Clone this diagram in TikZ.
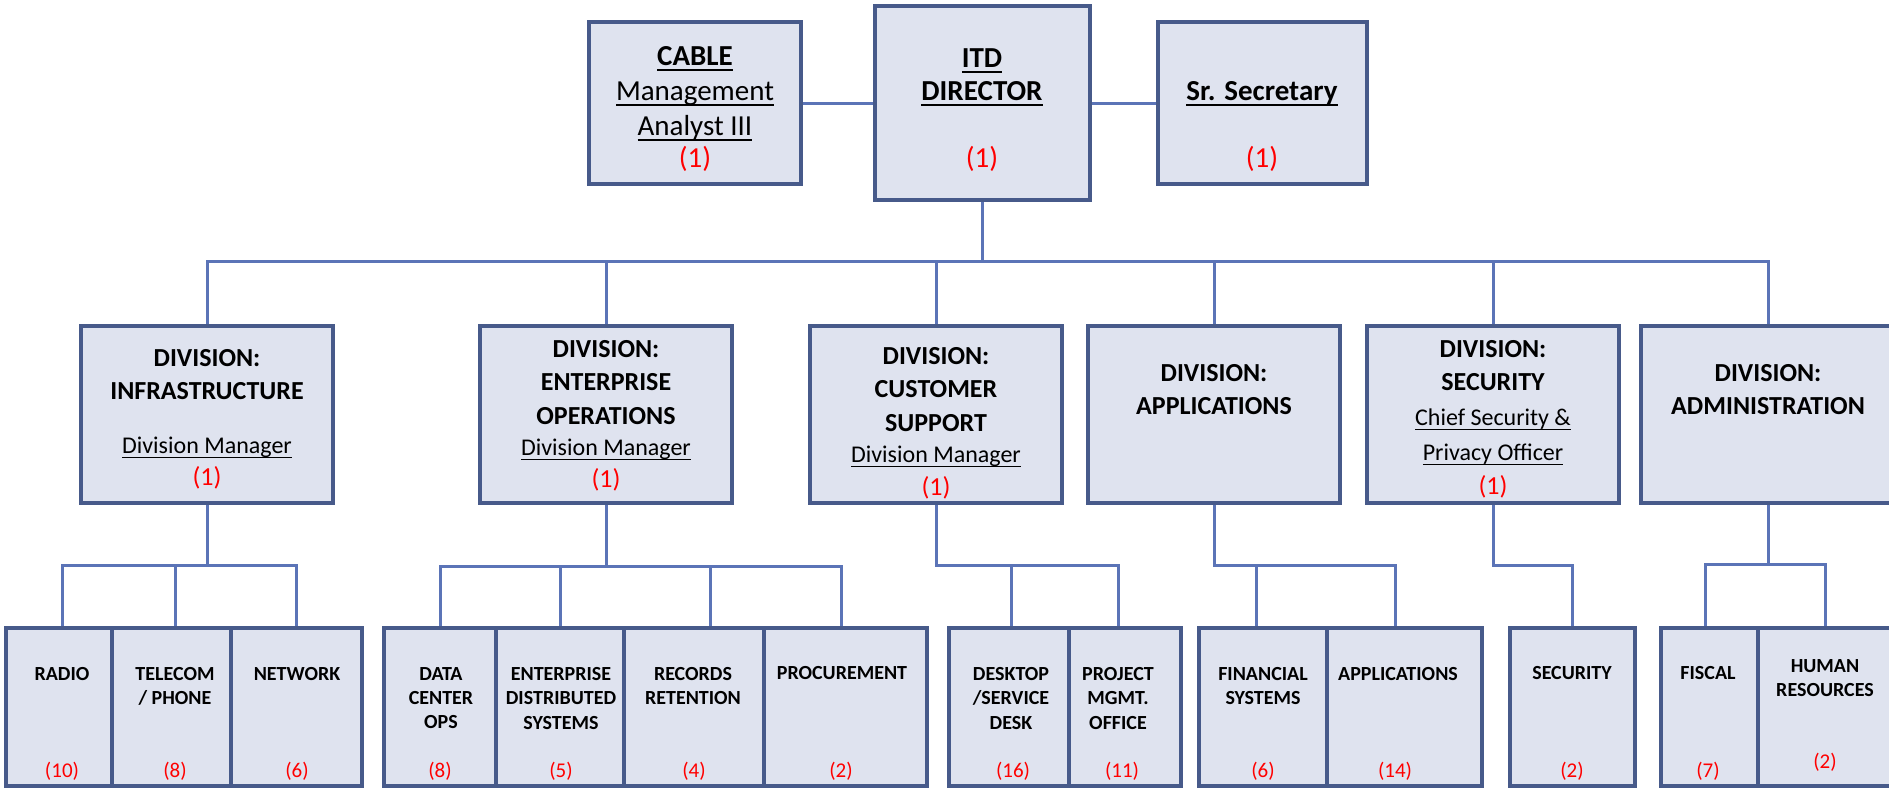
\documentclass[tikz,border=0pt]{standalone}
\usepackage{fontspec}
\setmainfont{Carlito}
\usetikzlibrary{backgrounds}
\definecolor{boxfill}{HTML}{DFE3EF}
\definecolor{boxline}{HTML}{475A8A}
\definecolor{linkline}{HTML}{5B74B7}
\definecolor{countred}{HTML}{FF0000}
\newcommand{\ulx}[1]{\sbox0{#1}\rlap{\rule[-0.2em]{\wd0}{0.07em}}\usebox0}
\begin{document}
\begin{tikzpicture}[x=0.5pt,y=-0.5pt,
  box/.style={rectangle, draw=boxline, fill=boxfill, line width=2pt, inner sep=0pt},
  leafbox/.style={box, line width=2pt, minimum height=79pt},
  divbox/.style={box, minimum width=126pt, minimum height=88.5pt},
  link/.style={draw=linkline, line width=1.5pt},
  toptext/.style={align=center, inner sep=0pt, anchor=north},
  topnum/.style={text=countred, font=\fontsize{14.5}{17}\selectfont, inner sep=0pt},
  divtitle/.style={font=\bfseries\fontsize{13}{16.75}\selectfont, align=center, inner sep=0pt, anchor=north},
  divsub/.style={font=\fontsize{12}{15}\selectfont, inner sep=0pt, anchor=base},
  divnum/.style={text=countred, font=\fontsize{13}{15}\selectfont, inner sep=0pt},
  ltitle/.style={font=\bfseries\fontsize{10}{12.2}\selectfont, align=center, inner sep=0pt, anchor=north},
  lnum/.style={text=countred, font=\fontsize{10.5}{12}\selectfont, inner sep=0pt}
]
\useasboundingbox (0,0) rectangle (1889,788);

% ---- top row ----
\node[box, minimum width=106pt, minimum height=81pt] (cable) at (695,103) {};
\node[box, minimum width=107.5pt, minimum height=97pt] (itd) at (982,103) {};
\node[box, minimum width=104.5pt, minimum height=81pt] (sr) at (1262,103) {};

\node[toptext, font=\fontsize{14.5}{17.5}\selectfont] (cable-t) at (695,45.8)
  {\textbf{\ulx{CABLE}}\\\ulx{Management}\\\ulx{Analyst III}};
\node[toptext, font=\bfseries\fontsize{14.5}{16.5}\selectfont] (itd-t) at (982,47.8)
  {\ulx{ITD}\\\ulx{DIRECTOR}};
\node[toptext, font=\bfseries\fontsize{14.5}{17.5}\selectfont] (sr-t) at (1262,80.8)
  {\ulx{Sr. Secretary}};
\node[topnum] (cable-n) at (695,159) {(1)};
\node[topnum] (itd-n) at (982,159) {(1)};
\node[topnum] (sr-n) at (1262,159) {(1)};

% ---- divisions ----
\node[divbox] (infra) at (207,414.5) {};
\node[divbox] (entops) at (606,414.5) {};
\node[divbox] (custsup) at (936,414.5) {};
\node[divbox] (apps) at (1214,414.5) {};
\node[divbox] (sec) at (1493,414.5) {};
\node[divbox, minimum width=127pt] (admin) at (1768,414.5) {};

\node[divtitle] (infra-t) at (207,348.8) {DIVISION:\\INFRASTRUCTURE};
\node[divsub] (infra-s) at (207,453.6) {\ulx{Division Manager}};
\node[divnum] (infra-n) at (207,478) {(1)};

\node[divtitle] (entops-t) at (606,339.8) {DIVISION:\\ENTERPRISE\\OPERATIONS};
\node[divsub] (entops-s) at (606,455.6) {\ulx{Division Manager}};
\node[divnum] (entops-n) at (606,480) {(1)};

\node[divtitle] (custsup-t) at (936,346.8) {DIVISION:\\CUSTOMER\\SUPPORT};
\node[divsub] (custsup-s) at (936,462.6) {\ulx{Division Manager}};
\node[divnum] (custsup-n) at (936,488) {(1)};

\node[divtitle] (apps-t) at (1214,363.8) {DIVISION:\\APPLICATIONS};

\node[divtitle] (sec-t) at (1493,339.8) {DIVISION:\\SECURITY};
\node[divsub] (sec-s1) at (1493,425.6) {\ulx{Chief Security \&}};
\node[divsub] (sec-s2) at (1493,460.6) {\ulx{Privacy Officer}};
\node[divnum] (sec-n) at (1493,487) {(1)};

\node[divtitle] (admin-t) at (1768,363.8) {DIVISION:\\ADMINISTRATION};

% ---- leaves ----
\node[leafbox, minimum width=53pt] (radio) at (59,707) {};
\node[leafbox, minimum width=59.5pt] (telecom) at (171.5,707) {};
\node[leafbox, minimum width=65.5pt] (network) at (296.5,707) {};

\node[leafbox, minimum width=56pt] (datacenter) at (440,707) {};
\node[leafbox, minimum width=64pt] (eds) at (560,707) {};
\node[leafbox, minimum width=70pt] (records) at (694,707) {};
\node[leafbox, minimum width=81.5pt] (procurement) at (845.5,707) {};

\node[leafbox, minimum width=60pt] (desktop) at (1009,707) {};
\node[leafbox, minimum width=56pt] (pmo) at (1125,707) {};

\node[leafbox, minimum width=64pt] (financial) at (1263,707) {};
\node[leafbox, minimum width=77.5pt] (applications) at (1404.5,707) {};

\node[leafbox, minimum width=62.5pt] (security) at (1572.5,707) {};

\node[leafbox, minimum width=48.5pt] (fiscal) at (1709.5,707) {};
\node[leafbox, minimum width=67.5pt] (hr) at (1825.5,707) {};

\node[ltitle] (radio-t) at (62,666.7) {RADIO};
\node[ltitle] (telecom-t) at (175,666.7) {TELECOM\\/ PHONE};
\node[ltitle] (network-t) at (297,666.7) {NETWORK};
\node[ltitle] (datacenter-t) at (441,666.7) {DATA\\CENTER\\OPS};
\node[ltitle] (eds-t) at (561,666.7) {ENTERPRISE\\DISTRIBUTED\\SYSTEMS};
\node[ltitle] (records-t) at (693,666.7) {RECORDS\\RETENTION};
\node[ltitle] (procurement-t) at (842,666) {PROCUREMENT};
\node[ltitle] (desktop-t) at (1011,666.7) {DESKTOP\\/SERVICE\\DESK};
\node[ltitle] (pmo-t) at (1118,666.7) {PROJECT\\MGMT.\\OFFICE};
\node[ltitle] (financial-t) at (1263,666.7) {FINANCIAL\\SYSTEMS};
\node[ltitle] (applications-t) at (1398,666.7) {APPLICATIONS};
\node[ltitle] (security-t) at (1572,666.4) {SECURITY};
\node[ltitle] (fiscal-t) at (1708,665.7) {FISCAL};
\node[ltitle] (hr-t) at (1825,658.7) {HUMAN\\RESOURCES};

\node[lnum] (radio-n) at (62,771) {(10)};
\node[lnum] (telecom-n) at (175,771) {(8)};
\node[lnum] (network-n) at (297,771) {(6)};
\node[lnum] (datacenter-n) at (440,771) {(8)};
\node[lnum] (eds-n) at (561,771) {(5)};
\node[lnum] (records-n) at (694,771) {(4)};
\node[lnum] (procurement-n) at (841,771) {(2)};
\node[lnum] (desktop-n) at (1013,771) {(16)};
\node[lnum] (pmo-n) at (1122,771) {(11)};
\node[lnum] (financial-n) at (1263,771) {(6)};
\node[lnum] (applications-n) at (1395,771) {(14)};
\node[lnum] (security-n) at (1572,771) {(2)};
\node[lnum] (fiscal-n) at (1708,771) {(7)};
\node[lnum] (hr-n) at (1825,762) {(2)};

% ---- connectors ----
\begin{pgfonlayer}{background}
\draw[link] (cable.east) -- (itd.west);
\draw[link] (itd.east) -- (sr.west);
\coordinate (bus) at (982,261);
\draw[link] (itd.south) -- (bus);
\draw[link] (infra.north) |- (bus) -| (admin.north);
\draw[link] (entops.north) -- (entops.north |- bus);
\draw[link] (custsup.north) -- (custsup.north |- bus);
\draw[link] (apps.north) -- (apps.north |- bus);
\draw[link] (sec.north) -- (sec.north |- bus);

\coordinate (infra-j) at (207,565);
\draw[link] (infra.south) -- (infra-j);
\draw[link] ([xshift=1.5pt]radio.north) |- (infra-j) -| (network.north);
\draw[link] ([xshift=1.75pt]telecom.north) -- ([xshift=1.75pt]telecom.north |- infra-j);

\coordinate (entops-j) at (606,566);
\draw[link] (entops.south) -- (entops-j);
\draw[link] (datacenter.north) |- (entops-j) -| ([xshift=-2.25pt]procurement.north);
\draw[link] (eds.north) -- (eds.north |- entops-j);
\draw[link] ([xshift=8pt]records.north) -- ([xshift=8pt]records.north |- entops-j);

\coordinate (custsup-j) at (936,565);
\draw[link] (custsup.south) -- (custsup-j) -| ([xshift=-3.5pt]pmo.north);
\draw[link] ([xshift=1pt]desktop.north) -- ([xshift=1pt]desktop.north |- custsup-j);

\coordinate (apps-j) at (1214,565);
\draw[link] (apps.south) -- (apps-j) -| ([xshift=-4.75pt]applications.north);
\draw[link] ([xshift=-3.5pt]financial.north) -- ([xshift=-3.5pt]financial.north |- apps-j);

\coordinate (sec-j) at (1493,565);
\draw[link] (sec.south) -- (sec-j) -| (security.north);

\coordinate (admin-j) at (1768,564);
\draw[link] (admin.south) -- (admin-j);
\draw[link] ([xshift=-2.25pt]fiscal.north) |- (admin-j) -| (hr.north);
\end{pgfonlayer}
\end{tikzpicture}
\end{document}
